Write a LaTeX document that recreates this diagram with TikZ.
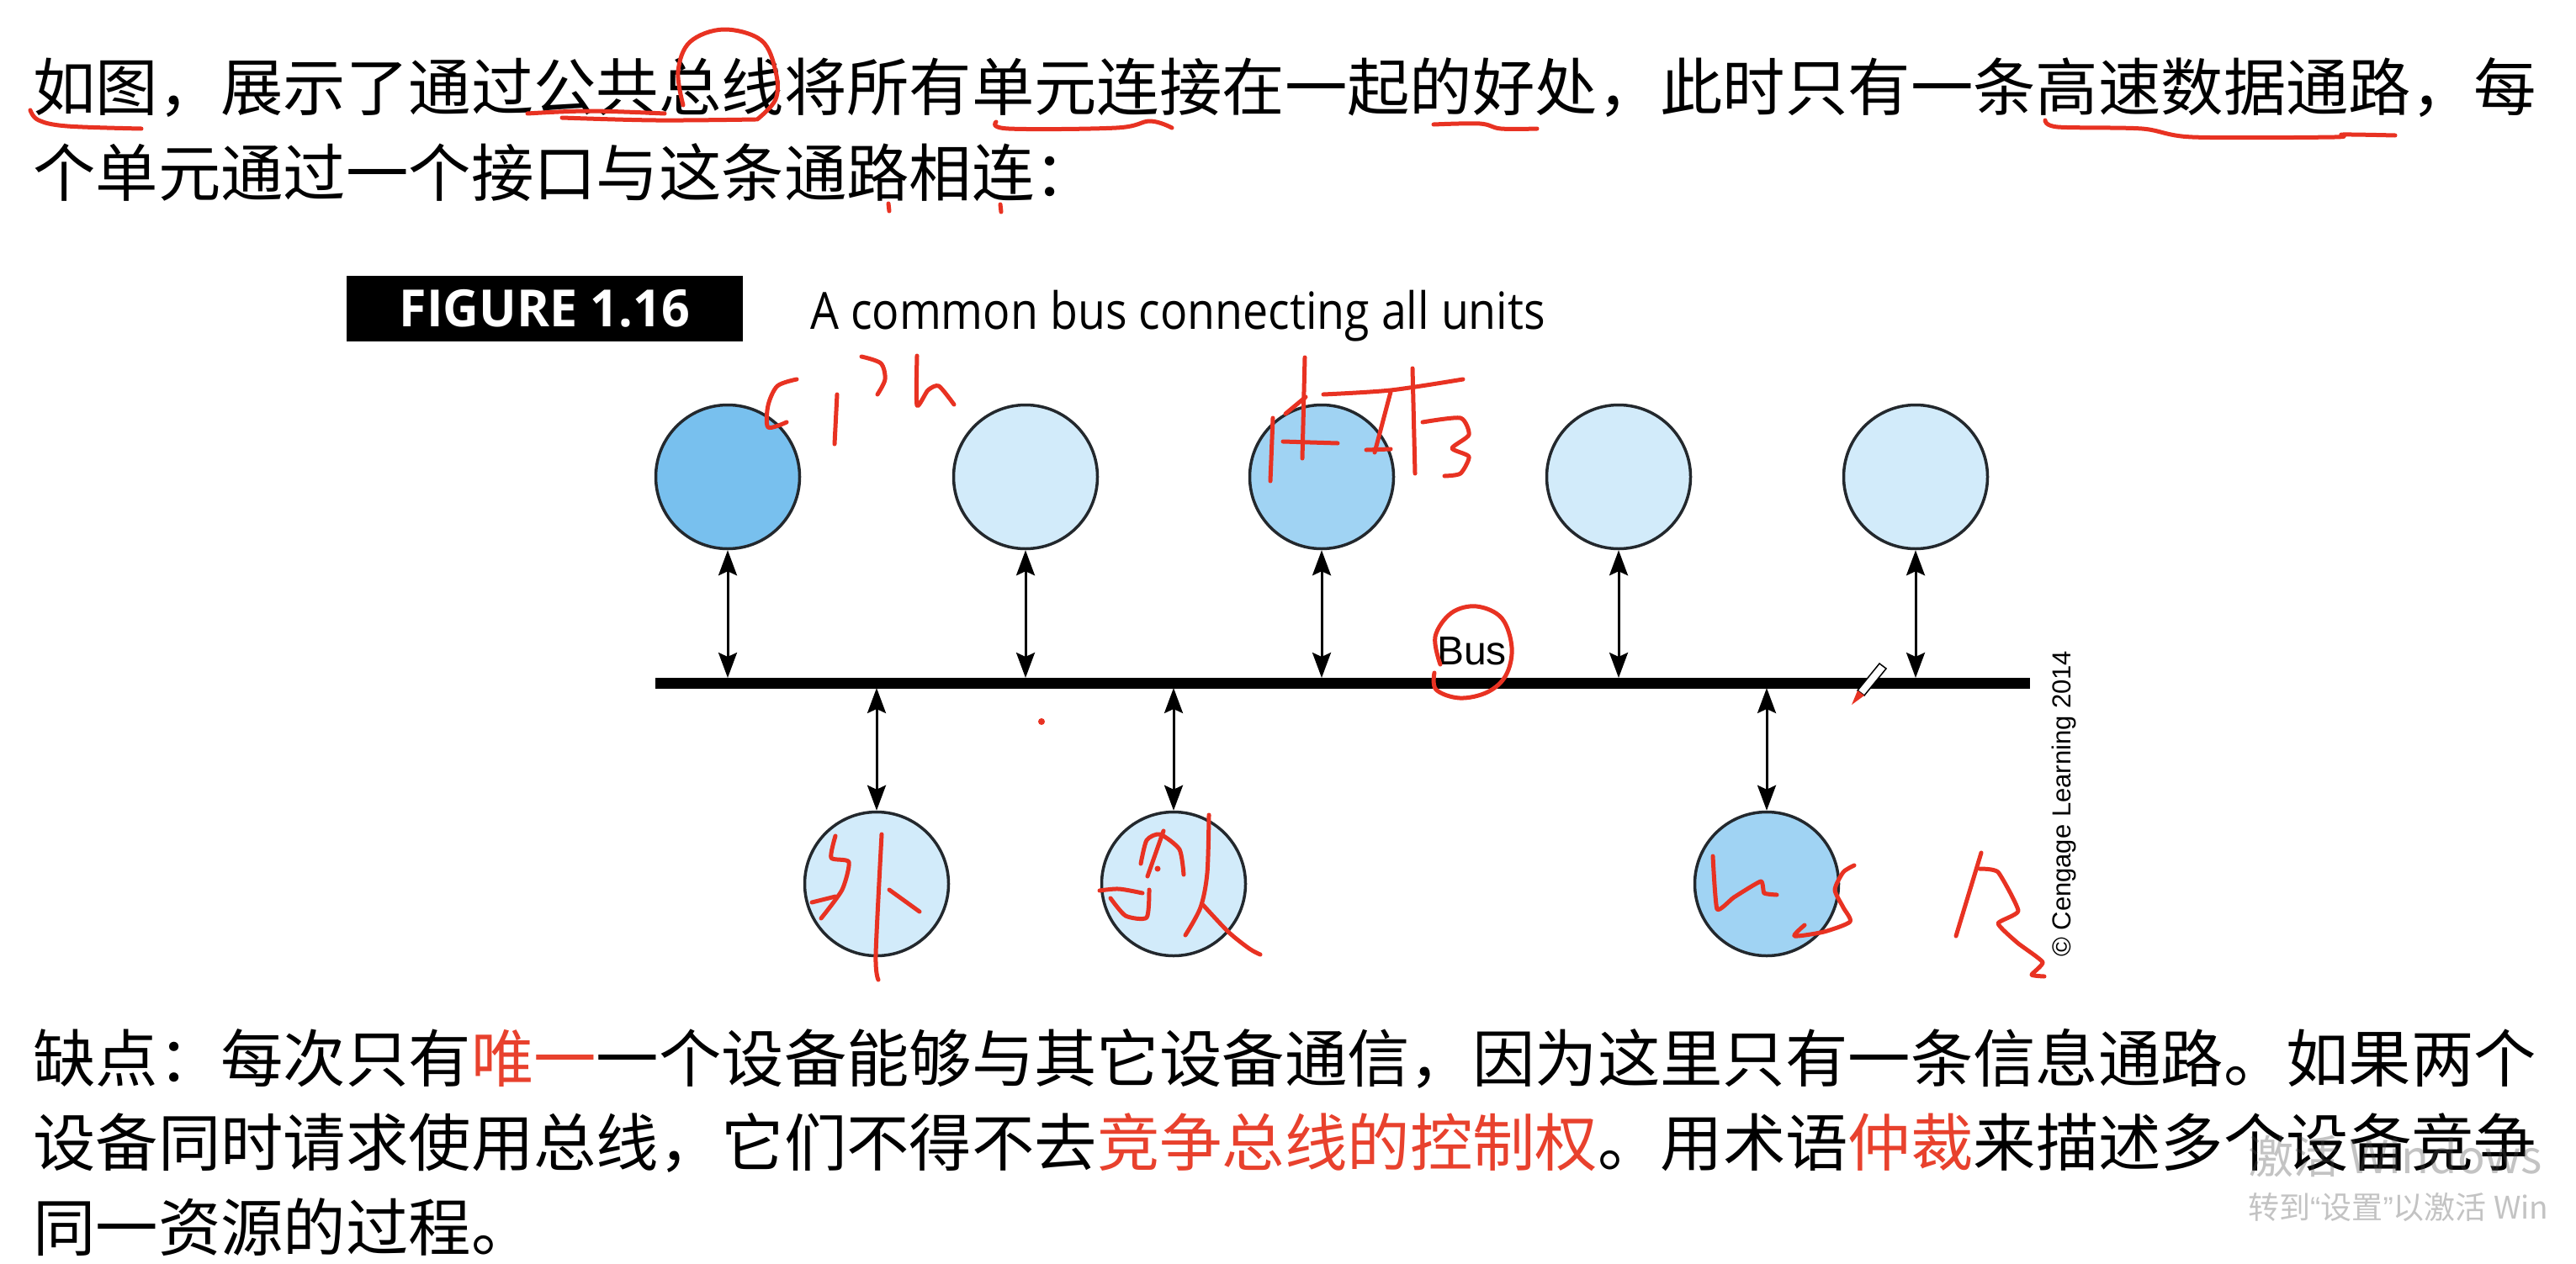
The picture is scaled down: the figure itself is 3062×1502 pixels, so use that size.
\documentclass[tikz,border=0pt]{standalone}
\usepackage{fontspec}
\usetikzlibrary{arrows.meta}
\newfontfamily\cjk{Noto Sans CJK SC}
\newfontfamily\figreg[FakeStretch=0.88]{Open Sans}
\newfontfamily\figbold[FakeStretch=0.97]{Open Sans Bold}
\newfontfamily\arialf{Liberation Sans}
\definecolor{hred}{RGB}{232,50,34}
\definecolor{tred}{RGB}{232,65,45}
\definecolor{cdark}{RGB}{120,192,238}
\definecolor{cmid}{RGB}{160,211,243}
\definecolor{clight}{RGB}{210,235,250}
\definecolor{wmgray}{RGB}{80,80,80}
\definecolor{edge}{RGB}{35,40,45}
\tikzset{
  txt/.style={anchor=base west, inner sep=0pt, font=\cjk\fontsize{74.4}{80}\selectfont},
  wmark/.style={anchor=base west, inner sep=0pt, text=wmgray, text opacity=0.34},
  unit/.style={circle, draw=edge, line width=3.5pt, minimum size=171pt, inner sep=0pt},
  dbl/.style={line width=3pt, {Stealth[length=30pt,width=22pt,inset=5pt]}-{Stealth[length=30pt,width=22pt,inset=5pt]}},
  busline/.style={line width=13pt},
  hand/.style={draw=hred, line width=5pt, line cap=round, line join=round},
}
\begin{document}
\begin{tikzpicture}[x=1pt,y=-1pt]
\useasboundingbox (0,0) rectangle (3062,1502);
\fill[white] (0,0) rectangle (3062,1502);

% top paragraph
\node[txt] (l1) at (39,131) {如图，展示了通过公共总线将所有单元连接在一起的好处，此时只有一条高速数据通路，每};
\node[txt] (l2) at (39,233) {个单元通过一个接口与这条通路相连：};

% figure header
\node[fill=black, minimum width=471pt, minimum height=78pt, inner sep=0pt, text=white,
      font=\figbold\fontsize{61}{64}\selectfont] (figbox) at (647.5,367) {FIGURE 1.16};
\node[anchor=base west, inner sep=0pt, font=\figreg\fontsize{61}{64}\selectfont] (caption) at (963,391) {A common bus connecting all units};

% bus
\coordinate (busL) at (779,812);
\coordinate (busR) at (2413,812);
\coordinate (busT) at (0,806);
\coordinate (busB) at (0,818);
\draw[busline] (busL) -- (busR);

% top units
\node[unit, fill=cdark]  (t1) at (865,567) {};
\node[unit, fill=clight] (t2) at (1219,567) {};
\node[unit, fill=cmid]   (t3) at (1571,567) {};
\node[unit, fill=clight] (t4) at (1924,567) {};
\node[unit, fill=clight] (t5) at (2277,567) {};
% bottom units
\node[unit, fill=clight] (b1) at (1042,1051) {};
\node[unit, fill=clight] (b2) at (1395,1051) {};
\node[unit, fill=cmid]   (b3) at (2100,1051) {};

\foreach \n in {t1,t2,t3,t4,t5} \draw[dbl] (\n.south) -- (\n.south |- busT);
\foreach \n in {b1,b2,b3} \draw[dbl] (\n.north |- busB) -- (\n.north);

\node[anchor=base west, inner sep=0pt, font=\arialf\fontsize{48}{50}\selectfont] (buslbl) at (1708,790) {Bus};
\node[rotate=90, anchor=base west, inner sep=0pt, font=\arialf\fontsize{31}{33}\selectfont] (copy) at (2461,1138) {© Cengage Learning 2014};

% bottom paragraph
\node[txt] (l3) at (39,1286) {缺点：每次只有\textcolor{tred}{唯一}一个设备能够与其它设备通信，因为这里只有一条信息通路。如果两个};
\node[txt] (l4) at (39,1386) {设备同时请求使用总线，它们不得不去\textcolor{tred}{竞争总线的控制权}。用术语\textcolor{tred}{仲裁}来描述多个设备竞争};
\node[txt] (l5) at (39,1487) {同一资源的过程。};

% translucent system watermark on top
\node[wmark, font=\cjk\fontsize{54}{56}\selectfont] (wm1) at (2672,1395) {激活 Windows};
\node[wmark, font=\cjk\fontsize{37}{40}\selectfont] (wm2) at (2672,1449) {转到{\arialf“}设置{\arialf”}以激活 Win};

% handwritten annotations
\draw[hand] plot[smooth, tension=0.6] coordinates {(36,131) (46,143) (80,150) (168,153)};
\draw[hand] plot[smooth, tension=0.6] coordinates {(627,135) (700,132) (790,135)};
\draw[hand] plot[smooth, tension=0.6] coordinates {(668,140) (780,143) (898,142)};
\draw[hand] plot[smooth, tension=0.6] coordinates {(812,125) (806,85) (820,50) (860,35) (905,48) (922,85) (922,118) (900,142)};
\draw[hand] plot[smooth, tension=0.6] coordinates {(1184,145) (1199,153) (1327,152) (1367,144) (1393,152)};
\draw[hand] plot[smooth, tension=0.6] coordinates {(1704,148) (1759,147) (1784,153) (1827,153)};
\draw[hand] plot[smooth, tension=0.5] coordinates {(2431,143) (2446,151) (2546,153) (2606,163) (2775,163) (2785,160) (2847,161)};
\draw[hand] (1056,242) -- (1057,251);
\draw[hand] (1189,243) -- (1190,252);
% CPU
\draw[hand] plot[smooth, tension=0.5] coordinates {(947,451) (924,459) (913,482) (913,508) (935,502)};
\draw[hand] (995,469) -- (992,528);
\draw[hand] plot[smooth, tension=0.5] coordinates {(1024,424) (1047,432) (1052,451) (1043,469)};
\draw[hand] plot[smooth, tension=0.4] coordinates {(1090,423) (1090,482) (1103,464) (1116,459) (1134,481)};
% 内存
\draw[hand] (1513,497) -- (1510,572);
\draw[hand] (1551,425) -- (1548,545);
\draw[hand] (1525,525) -- (1590,527);
\draw[hand] (1528,492) -- (1552,472);
\draw[hand] plot[smooth, tension=0.5] coordinates {(1573,469) (1653,464) (1739,451)};
\draw[hand] (1679,438) -- (1682,563);
\draw[hand] (1653,466) -- (1634,538);
\draw[hand] (1624,535) -- (1653,534);
\draw[hand] plot[smooth, tension=0.4] coordinates {(1691,502) (1736,497) (1746,517) (1726,533) (1746,543) (1736,563) (1717,566)};
% Bus circle
\draw[hand] plot[smooth, tension=0.6] coordinates {(1712,790) (1706,757) (1725,729) (1755,721) (1785,735) (1797,770) (1790,803) (1768,823) (1735,830) (1707,820) (1705,800)};
\fill[hred] (1238,858) circle (4pt);
% 外
\draw[hand] plot[smooth, tension=0.4] coordinates {(993,994) (988,1020) (1009,1025) (1001,1058) (976,1092)};
\draw[hand] (965,1073) -- (993,1066);
\draw[hand] plot[smooth, tension=0.5] coordinates {(1048,992) (1041,1135) (1044,1165)};
\draw[hand] (1057,1058) -- (1093,1084);
% second bottom unit
\draw[hand] plot[smooth, tension=0.5] coordinates {(1307,1059) (1330,1057) (1358,1062)};
\draw[hand] plot[smooth, tension=0.4] coordinates {(1320,1068) (1338,1089) (1363,1091) (1366,1058)};
\draw[hand] plot[smooth, tension=0.4] coordinates {(1356,1027) (1363,999) (1379,992) (1402,1010) (1407,1040)};
\draw[hand] (1383,988) -- (1364,1042);
\fill[hred] (1376,1033) circle (3.5pt);
\draw[hand] plot[smooth, tension=0.5] coordinates {(1437,969) (1435,1038) (1427,1079) (1409,1112)};
\draw[hand] plot[smooth, tension=0.5] coordinates {(1430,1076) (1460,1108) (1485,1128) (1498,1135)};
% USB
\draw[hand] plot[smooth, tension=0.3] coordinates {(2036,1018) (2041,1081) (2061,1067) (2093,1048) (2097,1062) (2112,1064)};
\draw[hand] plot[smooth, tension=0.4] coordinates {(2204,1029) (2191,1037) (2181,1058) (2191,1079) (2199,1096) (2168,1108) (2133,1113) (2145,1100)};
\draw[hand] (2355,1014) -- (2325,1113);
\draw[hand] plot[smooth, tension=0.3] coordinates {(2353,1033) (2375,1037) (2399,1083) (2375,1098) (2398,1121) (2428,1144) (2415,1159) (2430,1161)};

% pen cursor
\filldraw[fill=white, draw=black, line width=1.5pt] (2234,789) -- (2242,795) -- (2216,827) -- (2208,821) -- cycle;
\fill[hred] (2208,821) -- (2216,827) -- (2201,838) -- cycle;
\end{tikzpicture}
\end{document}
